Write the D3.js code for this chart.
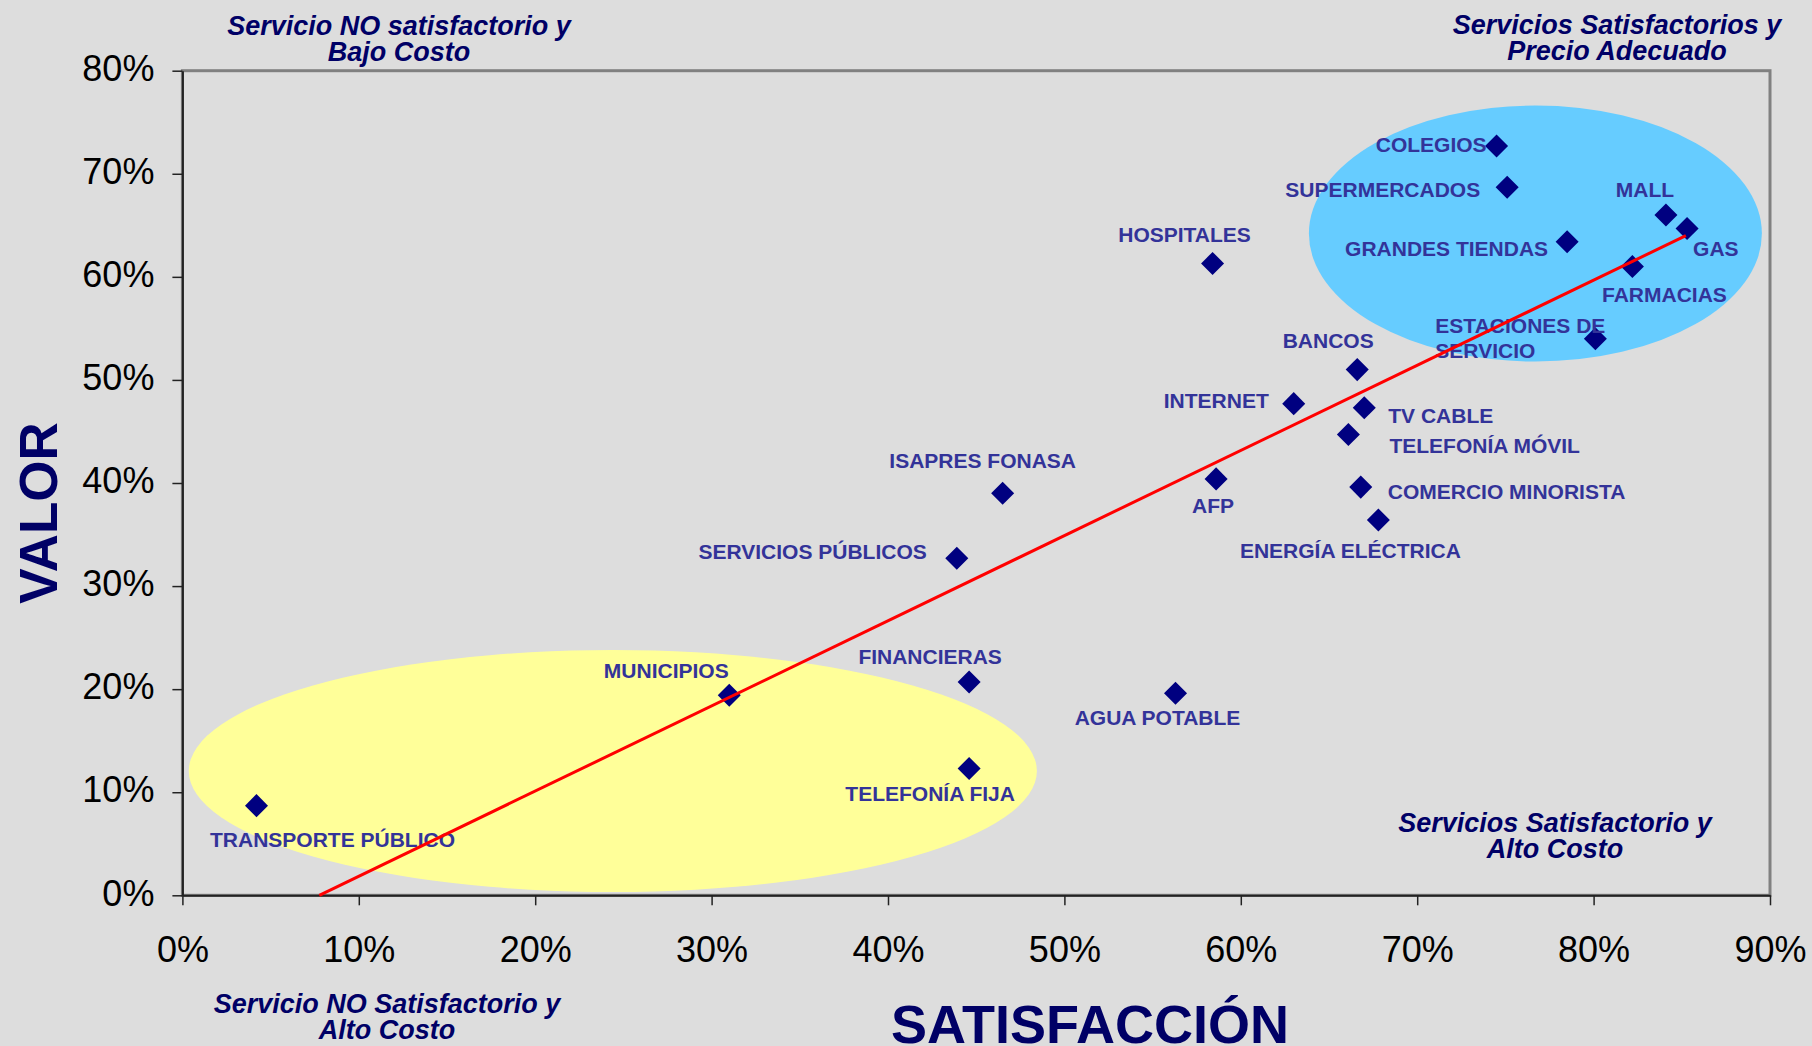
<!DOCTYPE html>
<html>
<head>
<meta charset="utf-8">
<script src="https://cdn.jsdelivr.net/npm/d3@7"></script>
<style>
  html, body { margin: 0; padding: 0; background: #dddddd; }
  svg { display: block; font-family: 'Liberation Sans', Arial, sans-serif; }
</style>
</head>
<body>
<div class="chart"></div>
<script>
// data
const services = [
  'COLEGIOS', 'SUPERMERCADOS', 'MALL', 'GAS', 'GRANDES TIENDAS', 'FARMACIAS',
  'ESTACIONES DE SERVICIO', 'HOSPITALES', 'BANCOS', 'INTERNET', 'TV CABLE',
  'TELEFONÍA MÓVIL', 'AFP', 'COMERCIO MINORISTA', 'ENERGÍA ELÉCTRICA',
  'ISAPRES FONASA', 'SERVICIOS PÚBLICOS', 'FINANCIERAS', 'AGUA POTABLE',
  'MUNICIPIOS', 'TELEFONÍA FIJA', 'TRANSPORTE PÚBLICO'
];
const satisfaccion = [
  0.745, 0.751, 0.841, 0.853, 0.785, 0.822,
  0.801, 0.584, 0.666, 0.630, 0.670,
  0.661, 0.586, 0.668, 0.678,
  0.465, 0.439, 0.446, 0.563,
  0.310, 0.446, 0.042
];
const valor = [
  0.727, 0.687, 0.660, 0.647, 0.634, 0.610,
  0.540, 0.613, 0.510, 0.477, 0.473,
  0.447, 0.404, 0.396, 0.364,
  0.390, 0.327, 0.207, 0.196,
  0.194, 0.123, 0.087
];
// linear trend line end points
const trendX = [0.0776, 0.8523];
const trendY = [0.0, 0.640];

const xTicks = [0, 0.1, 0.2, 0.3, 0.4, 0.5, 0.6, 0.7, 0.8, 0.9];
const yTicks = [0, 0.1, 0.2, 0.3, 0.4, 0.5, 0.6, 0.7, 0.8];

const xTitle = 'SATISFACCIÓN';
const yTitle = 'VALOR';
const quadrants = [
  ['Servicio NO satisfactorio y', 'Bajo Costo'],
  ['Servicios Satisfactorios y', 'Precio Adecuado'],
  ['Servicios Satisfactorio y', 'Alto Costo'],
  ['Servicio NO Satisfactorio y', 'Alto Costo']
];

// layout -----------------------------------------------------------
const width = 1812, height = 1046;
const plot = { left: 182.4, right: 1770, top: 70.7, bottom: 895.3 };

// highlighted zones, in data units
const zones = [
  { cx: 0.767, cy: 0.642, rx: 0.1284, ry: 0.1242, fill: '#66ccff' },
  { cx: 0.244, cy: 0.1206, rx: 0.2404, ry: 0.1174, fill: '#ffff99' }
];

// label placement relative to marker: [dx, dy, anchor]
const labelPos = {
  'COLEGIOS': [-10, 6, 'end'],
  'SUPERMERCADOS': [-27, 10, 'end'],
  'MALL': [-21, -18, 'middle'],
  'GAS': [6, 28, 'start'],
  'GRANDES TIENDAS': [-19, 14, 'end'],
  'FARMACIAS': [32, 35, 'middle'],
  'ESTACIONES DE SERVICIO': [-160, -6, 'start'],
  'HOSPITALES': [-28, -21, 'middle'],
  'BANCOS': [-29, -22, 'middle'],
  'INTERNET': [-25, 4, 'end'],
  'TV CABLE': [24, 15, 'start'],
  'TELEFONÍA MÓVIL': [41, 18, 'start'],
  'AFP': [-3, 34, 'middle'],
  'COMERCIO MINORISTA': [27, 12, 'start'],
  'ENERGÍA ELÉCTRICA': [-28, 38, 'middle'],
  'ISAPRES FONASA': [-20, -25, 'middle'],
  'SERVICIOS PÚBLICOS': [-30, 1, 'end'],
  'FINANCIERAS': [-39, -18, 'middle'],
  'AGUA POTABLE': [-18, 32, 'middle'],
  'MUNICIPIOS': [-63, -17, 'middle'],
  'TELEFONÍA FIJA': [-39, 32, 'middle'],
  'TRANSPORTE PÚBLICO': [76, 41, 'middle']
};

const quadrantPos = [
  { x: 399, y: 35 },
  { x: 1617, y: 34 },
  { x: 1555, y: 832 },
  { x: 387, y: 1013 }
];

const svg = d3.select('.chart')
  .append('svg')
  .attr('width', width)
  .attr('height', height);

svg.append('rect')
  .attr('width', width)
  .attr('height', height)
  .attr('fill', '#dddddd');

const x = d3.scaleLinear().domain([0, 0.9]).range([plot.left, plot.right]);
const y = d3.scaleLinear().domain([0, 0.8]).range([plot.bottom, plot.top]);

// plot frame
svg.append('rect')
  .attr('x', plot.left)
  .attr('y', plot.top)
  .attr('width', plot.right - plot.left)
  .attr('height', plot.bottom - plot.top)
  .attr('fill', 'none')
  .attr('stroke', '#808080')
  .attr('stroke-width', 3);

// zones
svg.append('g')
  .selectAll('ellipse')
  .data(zones)
  .enter()
  .append('ellipse')
  .attr('cx', d => x(d.cx))
  .attr('cy', d => y(d.cy))
  .attr('rx', d => x(d.rx) - x(0))
  .attr('ry', d => y(0) - y(d.ry))
  .attr('fill', d => d.fill);

// axes
const fmt = d3.format('.0%');

const yAxis = svg.append('g')
  .attr('transform', `translate(${plot.left}, 0)`)
  .call(d3.axisLeft(y).tickValues(yTicks).tickFormat(fmt).tickSize(10).tickSizeOuter(0).tickPadding(18));

const xAxis = svg.append('g')
  .attr('transform', `translate(0, ${plot.bottom})`)
  .call(d3.axisBottom(x).tickValues(xTicks).tickFormat(fmt).tickSize(10).tickSizeOuter(0).tickPadding(31));

[xAxis, yAxis].forEach(a => {
  a.select('.domain').attr('stroke', '#222').attr('stroke-width', 2);
  a.selectAll('.tick line').attr('stroke', '#222').attr('stroke-width', 1.5);
  a.selectAll('.tick text')
    .attr('fill', '#000')
    .attr('font-size', 36)
    .attr('font-family', "'Liberation Sans', Arial, sans-serif");
});
yAxis.selectAll('.tick text').attr('dy', '0.27em');

const data = services.map((name, i) => ({ name, sx: satisfaccion[i], vy: valor[i] }));

// markers
svg.append('g')
  .selectAll('path')
  .data(data)
  .enter()
  .append('path')
  .attr('d', d3.symbol(d3.symbolSquare, 265))
  .attr('transform', d => `translate(${x(d.sx)}, ${y(d.vy)}) rotate(45)`)
  .attr('fill', '#000080');

// point labels
const labels = svg.append('g')
  .attr('font-size', 21)
  .attr('font-weight', 'bold')
  .attr('fill', '#333399')
  .selectAll('text')
  .data(data)
  .enter()
  .append('text')
  .attr('x', d => x(d.sx) + labelPos[d.name][0])
  .attr('y', d => y(d.vy) + labelPos[d.name][1])
  .attr('text-anchor', d => labelPos[d.name][2]);

labels.each(function(d) {
  const t = d3.select(this);
  if (d.name === 'ESTACIONES DE SERVICIO') {
    t.append('tspan').text('ESTACIONES DE');
    t.append('tspan')
      .attr('x', x(d.sx) + labelPos[d.name][0])
      .attr('dy', 25)
      .text('SERVICIO');
  } else {
    t.text(d.name);
  }
});

// trend line
svg.append('line')
  .attr('x1', x(trendX[0]))
  .attr('y1', y(trendY[0]))
  .attr('x2', x(trendX[1]))
  .attr('y2', y(trendY[1]))
  .attr('stroke', '#ff0000')
  .attr('stroke-width', 3);

// quadrant notes
const notes = svg.append('g')
  .attr('font-size', 27)
  .attr('font-weight', 'bold')
  .attr('font-style', 'italic')
  .attr('fill', '#000066')
  .attr('text-anchor', 'middle')
  .selectAll('text')
  .data(quadrants)
  .enter()
  .append('text')
  .attr('x', (d, i) => quadrantPos[i].x)
  .attr('y', (d, i) => quadrantPos[i].y);

notes.selectAll('tspan')
  .data(d => d)
  .enter()
  .append('tspan')
  .attr('x', function() { return d3.select(this.parentNode).attr('x'); })
  .attr('dy', (d, i) => i === 0 ? 0 : 26)
  .text(d => d);

// axis titles
svg.append('text')
  .attr('x', 1090)
  .attr('y', 1043)
  .attr('text-anchor', 'middle')
  .attr('font-size', 54)
  .attr('font-weight', 'bold')
  .attr('fill', '#000066')
  .text(xTitle);

svg.append('text')
  .attr('transform', 'translate(57, 513) rotate(-90)')
  .attr('text-anchor', 'middle')
  .attr('font-size', 53)
  .attr('font-weight', 'bold')
  .attr('fill', '#000066')
  .text(yTitle);
</script>
</body>
</html>
